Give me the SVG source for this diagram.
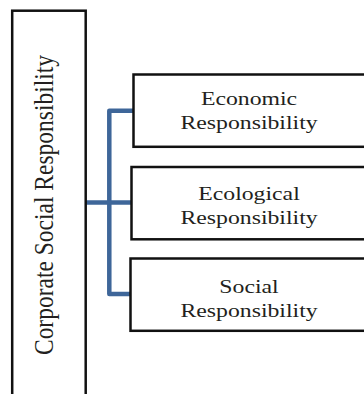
<svg xmlns="http://www.w3.org/2000/svg" width="364" height="394" viewBox="0 0 364 394">
<style>
.box{fill:#ffffff;stroke:#111111;stroke-width:2.5}
.lbl{font-family:"Liberation Serif","Times New Roman",serif;font-size:19px;fill:#231f20;text-anchor:middle}
.vlbl{font-family:"Liberation Serif","Times New Roman",serif;font-size:23.5px;fill:#231f20;text-anchor:middle}
.conn{fill:none;stroke:#3e6699;stroke-width:4.5;stroke-linejoin:round;stroke-linecap:butt}
</style>
<rect width="364" height="394" fill="#ffffff"/>
<g id="connectors">
<path class="conn" d="M133.5 110.8 H109.3 V294 H130.5"/>
<path class="conn" d="M86 202.5 H131.5"/>
</g>
<g id="csr">
<rect class="box" x="12.2" y="10.7" width="73.5" height="400"/>
<text class="vlbl" transform="translate(53,205) scale(1.18,1) rotate(-90)">Corporate Social Responsibility</text>
</g>
<g id="economic">
<rect class="box" x="133.5" y="74.5" width="250" height="72.3"/>
<text class="lbl" transform="translate(249,105) scale(1.25,1)">Economic</text>
<text class="lbl" transform="translate(249,129.3) scale(1.25,1)">Responsibility</text>
</g>
<g id="ecological">
<rect class="box" x="131.5" y="167" width="250" height="72.3"/>
<text class="lbl" transform="translate(249,199.5) scale(1.25,1)">Ecological</text>
<text class="lbl" transform="translate(249,223.5) scale(1.25,1)">Responsibility</text>
</g>
<g id="social">
<rect class="box" x="130.5" y="258.5" width="250" height="72.3"/>
<text class="lbl" transform="translate(249,293) scale(1.25,1)">Social</text>
<text class="lbl" transform="translate(249,317) scale(1.25,1)">Responsibility</text>
</g>
</svg>
